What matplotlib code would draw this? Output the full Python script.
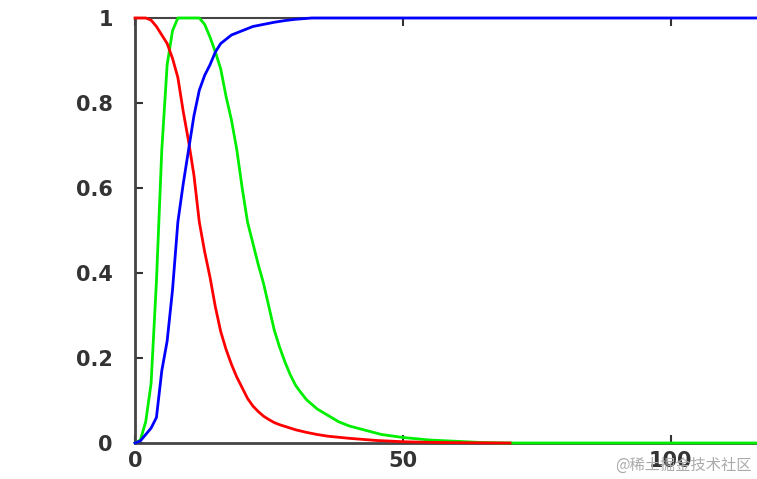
import matplotlib
matplotlib.use("Agg")
import matplotlib.pyplot as plt
from matplotlib.ticker import FuncFormatter

# Red series (S)
red_x = [0, 1, 2, 3, 4, 5, 6, 7, 8, 9, 10, 11, 12, 13, 14, 15, 16, 17, 18, 19, 20,
         21, 22, 23, 24, 25, 26, 27, 28, 29, 30, 32, 34, 36, 40, 45, 50, 55, 60, 70]
red_y = [1, 1, 1, 0.995, 0.98, 0.96, 0.94, 0.905, 0.86, 0.78, 0.71, 0.63, 0.52, 0.45,
         0.39, 0.32, 0.262, 0.22, 0.185, 0.155, 0.13, 0.105, 0.087, 0.074, 0.063, 0.055,
         0.048, 0.043, 0.039, 0.035, 0.031, 0.025, 0.02, 0.016, 0.011, 0.006, 0.003,
         0.0015, 0.0008, 0.0]

# Green series (I)
green_x = [0, 1, 2, 3, 4, 5, 6, 7, 8, 12, 13, 14, 15, 16, 17, 18, 19, 20, 21, 22, 23,
           24, 25, 26, 27, 28, 29, 30, 31, 32, 34, 36, 38, 40, 43, 46, 50, 55, 60, 65,
           70, 120]
green_y = [0, 0.007, 0.05, 0.14, 0.38, 0.69, 0.89, 0.97, 1, 1, 0.985, 0.955, 0.92, 0.88,
           0.815, 0.76, 0.69, 0.6, 0.52, 0.47, 0.42, 0.375, 0.32, 0.265, 0.225, 0.19,
           0.16, 0.135, 0.118, 0.102, 0.08, 0.065, 0.05, 0.04, 0.03, 0.02, 0.013, 0.007,
           0.004, 0.001, 0, 0]

# Blue series (R)
blue_x = [0, 1, 2, 3, 4, 5, 6, 7, 8, 9, 10, 11, 12, 13, 14, 15, 16, 17, 18, 19, 20,
          22, 24, 26, 28, 30, 33, 120]
blue_y = [0, 0.005, 0.02, 0.035, 0.06, 0.17, 0.24, 0.36, 0.52, 0.61, 0.69, 0.77, 0.83,
          0.865, 0.89, 0.92, 0.94, 0.95, 0.96, 0.965, 0.97, 0.98, 0.985, 0.99, 0.994,
          0.997, 1.0, 1.0]

x_ticks = [0, 50, 100]
y_ticks = [0, 0.2, 0.4, 0.6, 0.8, 1]
watermark = "@稀土掘金技术社区"

W, H = 757, 479
fig = plt.figure(figsize=(W / 100, H / 100), dpi=100)
fig.patch.set_facecolor("white")
left_px, right_px, top_px, bottom_px = 135, 778, 18, 443
ax = fig.add_axes([left_px / W, (H - bottom_px) / H,
                   (right_px - left_px) / W, (bottom_px - top_px) / H])

ax.plot(green_x, green_y, color="#00ee00", lw=2, clip_on=False, zorder=3)
ax.plot(red_x, red_y, color="#ff0000", lw=2, clip_on=False, zorder=4)
ax.plot(blue_x, blue_y, color="#0000ff", lw=2, clip_on=False, zorder=5)

ax.set_xlim(0, 120)
ax.set_ylim(0, 1)
ax.set_xticks(x_ticks)
ax.set_yticks(y_ticks)
ax.yaxis.set_major_formatter(FuncFormatter(lambda v, p: "%g" % v))
ax.xaxis.set_major_formatter(FuncFormatter(lambda v, p: "%g" % v))

for side in ["left", "bottom", "top", "right"]:
    ax.spines[side].set_color("#444444")
    ax.spines[side].set_linewidth(2)
ax.spines["top"].set_linewidth(1.5)

ax.tick_params(axis="both", direction="in", length=6, width=1.5, color="#333333",
               labelsize=15, labelcolor="#333333", top=True, right=True)
ax.tick_params(axis="y", pad=16)
ax.tick_params(axis="x", pad=6)
for lbl in ax.get_xticklabels() + ax.get_yticklabels():
    lbl.set_fontweight("bold")

fig.text(752 / W, (H - 465) / H, watermark, ha="right", va="center",
         fontsize=11, color="#aaaaaa",
         family=["Noto Sans CJK SC", "DejaVu Sans"])

fig.savefig("out.png", dpi=100)
